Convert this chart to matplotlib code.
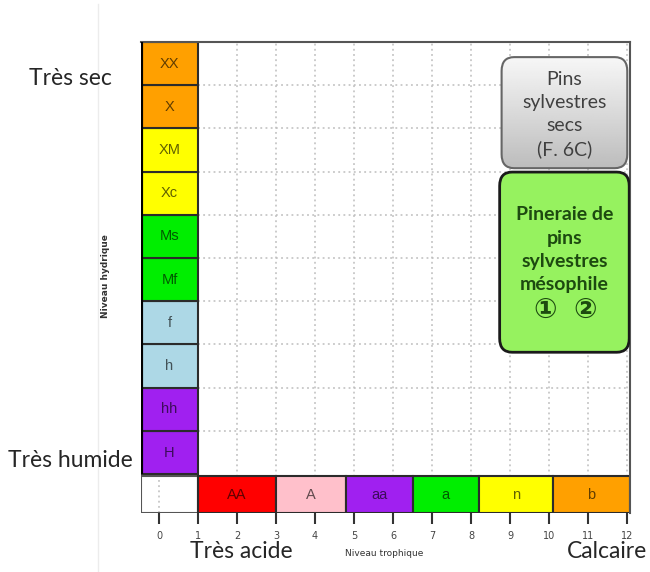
import matplotlib
matplotlib.use('Agg')
import matplotlib.pyplot as plt
import numpy as np
from matplotlib.patches import Rectangle, FancyBboxPatch
from matplotlib.colors import to_rgb

# ---------------- data ----------------
hydric_levels = ['H', 'hh', 'h', 'f', 'Mf', 'Ms', 'Xc', 'XM', 'X', 'XX']   # bottom -> top
hydric_colors = ['#A020F0', '#A020F0', '#ADD8E6', '#ADD8E6', '#00EE00',
                 '#00EE00', '#FFFF00', '#FFFF00', '#FFA000', '#FFA000']
trophic_levels = ['AA', 'A', 'aa', 'a', 'n', 'b']
trophic_edges = [1, 3, 4.8, 6.5, 8.2, 10.1, 12.07]
trophic_colors = ['#FF0000', '#FFC0CB', '#A020F0', '#00EE00', '#FFFF00', '#FFA000']
xtick_values = list(range(0, 13))

box_dry_text = 'Pins\nsylvestres\nsecs\n(F. 6C)'
box_meso_text = 'Pineraie de\npins\nsylvestres\nmésophile'
box_meso_refs = ['①', '②']

x_label = 'Niveau trophique'
y_label = 'Niveau hydrique'
corner_labels = ['Très sec', 'Très humide', 'Très acide', 'Calcaire']

# ---------------- layout ----------------
W, H = 650, 572
fig = plt.figure(figsize=(W / 100, H / 100), dpi=100)
fig.patch.set_facecolor('white')

def fx(px):
    return px / W

def fy(py):
    return 1 - py / H

# faint frame of the pasted picture
fig.add_artist(plt.Line2D([fx(98), fx(98)], [fy(4), fy(572)], color='#ececec', lw=1))

ax = fig.add_axes([fx(141), fy(513), (630 - 141) / W, (513 - 42) / H])
XMIN, XMAX, YMIN, YMAX = -0.46, 12.07, -0.90, 10
ax.set_xlim(XMIN, XMAX)
ax.set_ylim(YMIN, YMAX)

def dark(c, f=0.38):
    return tuple(np.array(to_rgb(c)) * f)

# grid
grid_kw = dict(ls=(0, (1.2, 2.2)), color='#bdbdbd', lw=1.1, zorder=0)
for x in xtick_values:
    ax.plot([x, x], [YMIN, YMAX], **grid_kw)
for y in range(1, len(hydric_levels)):
    ax.plot([1, XMAX], [y, y], **grid_kw)

# hydric column
for i, (lab, col) in enumerate(zip(hydric_levels, hydric_colors)):
    ax.add_patch(Rectangle((XMIN, i), 1 - XMIN, 1, fc=col, ec='#2b2b2b', lw=1.5, zorder=2))
    ax.text((XMIN + 1) / 2, i + 0.5, lab, ha='center', va='center', fontsize=10.5,
            color=dark(col), family='Liberation Sans', zorder=3)
ax.plot([XMIN, XMIN], [0, YMAX], color='black', lw=3, zorder=3, solid_capstyle='butt')

# trophic band
band_y0, band_h = YMIN, -0.05 - YMIN
ax.add_patch(Rectangle((XMIN, band_y0), 1 - XMIN, band_h, fc='none', ec='#555555', lw=1.5, zorder=2))
for i, (lab, col) in enumerate(zip(trophic_levels, trophic_colors)):
    x0, x1 = trophic_edges[i], trophic_edges[i + 1]
    ax.add_patch(Rectangle((x0, band_y0), x1 - x0, band_h, fc=col, ec='#2b2b2b', lw=1.5, zorder=2))
    ax.text((x0 + x1) / 2, band_y0 + band_h / 2, lab, ha='center', va='center', fontsize=10.5,
            color=dark(col), family='Liberation Sans', zorder=3)

# spines / ticks
for s in ['left', 'bottom']:
    ax.spines[s].set_visible(False)
for s in ['top', 'right']:
    ax.spines[s].set_color('#555555')
    ax.spines[s].set_linewidth(1.5)
ax.set_yticks([])
ax.set_xticks(xtick_values)
ax.set_xticklabels([str(v) for v in xtick_values])
ax.tick_params(axis='x', length=8, width=1.5, color='#333333', labelsize=7,
               labelcolor='#444444', pad=5)

# boxes
dry = FancyBboxPatch((8.78, 7.08), 12.0 - 8.78, 9.65 - 7.08,
                     boxstyle='round,pad=0,rounding_size=0.32', fc='none', ec='#666666',
                     lw=1.5, zorder=5)
ax.add_patch(dry)
grad = np.linspace(0.97, 0.74, 100).reshape(-1, 1)
im = ax.imshow(grad, cmap='gray', vmin=0, vmax=1, extent=(8.78, 12.0, 7.08, 9.65),
               origin='upper', aspect='auto', zorder=4)
im.set_clip_path(dry)
ax.text((8.78 + 12.0) / 2, (7.08 + 9.65) / 2 - 0.05, box_dry_text, ha='center', va='center',
        fontsize=14, color='#404040', family=['Lato', 'DejaVu Sans'], linespacing=1.42, zorder=6)

meso = FancyBboxPatch((8.73, 2.82), 12.05 - 8.73, 6.99 - 2.82,
                      boxstyle='round,pad=0,rounding_size=0.32', fc='#96F25F', ec='#1a1a1a',
                      lw=2, zorder=5)
ax.add_patch(meso)
ax.text((8.73 + 12.05) / 2, 5.19, box_meso_text, ha='center', va='center',
        fontsize=14, fontweight='bold', color='#1d4a10',
        family=['Lato', 'DejaVu Sans'], linespacing=1.45, zorder=6)
for xr, ref in zip([9.89, 10.91], box_meso_refs):
    ax.text(xr, 3.8, ref, ha='center', va='center',
            fontsize=20, fontweight='bold', color='#1d4a10',
            family=['DejaVu Sans', 'Noto Sans CJK JP'], zorder=6)

ax.set_xlim(XMIN, XMAX)
ax.set_ylim(YMIN, YMAX)

# axis labels (small)
fig.text(fx(384), fy(553), x_label, ha='center', va='center', fontsize=6.5, color='#333333')
fig.text(fx(105), fy(276), y_label, ha='center', va='center', fontsize=6.5, rotation=90,
         fontweight='bold', color='#333333')

# corner labels
big = dict(fontsize=16.5, color='#262626', family=['Lato', 'DejaVu Sans'])
fig.text(fx(29), fy(85), corner_labels[0], ha='left', va='baseline', **big)
fig.text(fx(8), fy(467), corner_labels[1], ha='left', va='baseline', **big)
fig.text(fx(190), fy(558), corner_labels[2], ha='left', va='baseline', **big)
fig.text(fx(567), fy(558), corner_labels[3], ha='left', va='baseline', **big)

fig.savefig('out.png', dpi=100, facecolor='white')
